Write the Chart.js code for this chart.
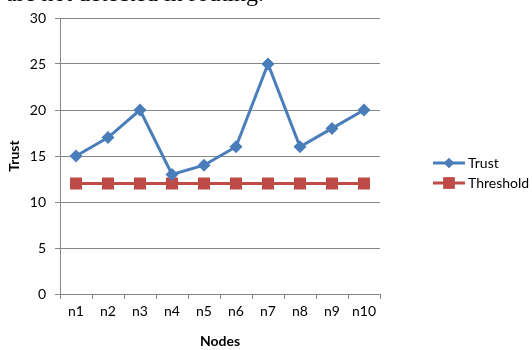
<!DOCTYPE html>
<html>
<head>
<meta charset="utf-8">
<script src="https://cdn.jsdelivr.net/npm/chart.js@4/dist/chart.umd.min.js"></script>
<style>
  html, body { margin: 0; padding: 0; background: #fff; }
  #wrap { position: relative; width: 532px; height: 350px; overflow: hidden; }
</style>
</head>
<body>
<div id="wrap"><canvas id="c" width="532" height="350"></canvas></div>
<script>
// Trust value per node against the fixed threshold
const nodes = ['n1', 'n2', 'n3', 'n4', 'n5', 'n6', 'n7', 'n8', 'n9', 'n10'];
const trust = [15, 17, 20, 13, 14, 16, 25, 16, 18, 20];
const threshold = [12, 12, 12, 12, 12, 12, 12, 12, 12, 12];
const yTicks = [0, 5, 10, 15, 20, 25, 30];
const caption = 'are not detected in routing.';

const BLUE = '#4A7EBB';
const RED = '#BE4B48';
const AXIS_FONT = "Lato, 'Open Sans', 'Liberation Sans', sans-serif";

// Line-and-marker legend on the right, plus the line of body text above the chart
const extras = {
  id: 'extras',
  afterDraw(chart) {
    const ctx = chart.ctx;
    ctx.save();
    ctx.font = "24px 'Liberation Serif', 'DejaVu Serif', serif";
    ctx.fillStyle = '#000';
    ctx.textAlign = 'right';
    ctx.textBaseline = 'alphabetic';
    ctx.fillText(caption, 264, 1);

    const items = [
      { label: 'Trust', color: BLUE, style: 'rectRot', r: 5 },
      { label: 'Threshold', color: RED, style: 'rect', r: 8 }
    ];
    items.forEach((it, i) => {
      const y = 163 + i * 20;
      ctx.strokeStyle = it.color;
      ctx.lineWidth = 3;
      ctx.beginPath();
      ctx.moveTo(433, y);
      ctx.lineTo(465, y);
      ctx.stroke();
      ctx.fillStyle = it.color;
      Chart.helpers.drawPoint(ctx, { pointStyle: it.style, radius: it.r, borderWidth: 0 }, 449, y);
      ctx.fill();
      ctx.fillStyle = '#000';
      ctx.font = '14px ' + AXIS_FONT;
      ctx.textAlign = 'left';
      ctx.textBaseline = 'middle';
      ctx.fillText(it.label, 468, y);
    });
    ctx.restore();
  }
};

new Chart(document.getElementById('c'), {
  type: 'line',
  data: {
    labels: nodes,
    datasets: [
      {
        label: 'Trust',
        data: trust,
        borderColor: BLUE,
        backgroundColor: BLUE,
        borderWidth: 3,
        pointStyle: 'rectRot',
        pointRadius: 6.5,
        pointBorderWidth: 0,
        tension: 0
      },
      {
        label: 'Threshold',
        data: threshold,
        borderColor: RED,
        backgroundColor: RED,
        borderWidth: 3,
        pointStyle: 'rect',
        pointRadius: 8.5,
        pointBorderWidth: 0,
        tension: 0
      }
    ]
  },
  options: {
    responsive: false,
    animation: false,
    devicePixelRatio: 1,
    layout: { padding: { top: 18, right: 152, left: 0, bottom: 0 } },
    plugins: {
      legend: { display: false },
      tooltip: { enabled: false }
    },
    scales: {
      x: {
        offset: true,
        grid: {
          offset: true,
          drawOnChartArea: false,
          drawTicks: true,
          tickLength: 5,
          color: '#868686'
        },
        border: { color: '#868686', width: 1 },
        ticks: {
          color: '#000',
          font: { family: AXIS_FONT, size: 14 },
          padding: 4,
          maxRotation: 0
        },
        title: {
          display: true,
          text: 'Nodes',
          color: '#000',
          font: { family: AXIS_FONT, size: 14, weight: 'bold' },
          padding: { top: 3, bottom: 0 }
        },
        afterFit(scale) { scale.height = 56; }
      },
      y: {
        min: 0,
        max: 30,
        afterBuildTicks(scale) { scale.ticks = yTicks.map(v => ({ value: v })); },
        grid: {
          color: '#868686',
          drawTicks: true,
          tickLength: 5
        },
        border: { color: '#868686', width: 1 },
        ticks: {
          color: '#000',
          font: { family: AXIS_FONT, size: 14 },
          padding: 9
        },
        title: {
          display: true,
          text: 'Trust',
          color: '#000',
          font: { family: AXIS_FONT, size: 14, weight: 'bold' },
          padding: { top: 6, bottom: 4 }
        },
        afterFit(scale) { scale.width = 60; }
      }
    }
  },
  plugins: [extras]
});
</script>
</body>
</html>
